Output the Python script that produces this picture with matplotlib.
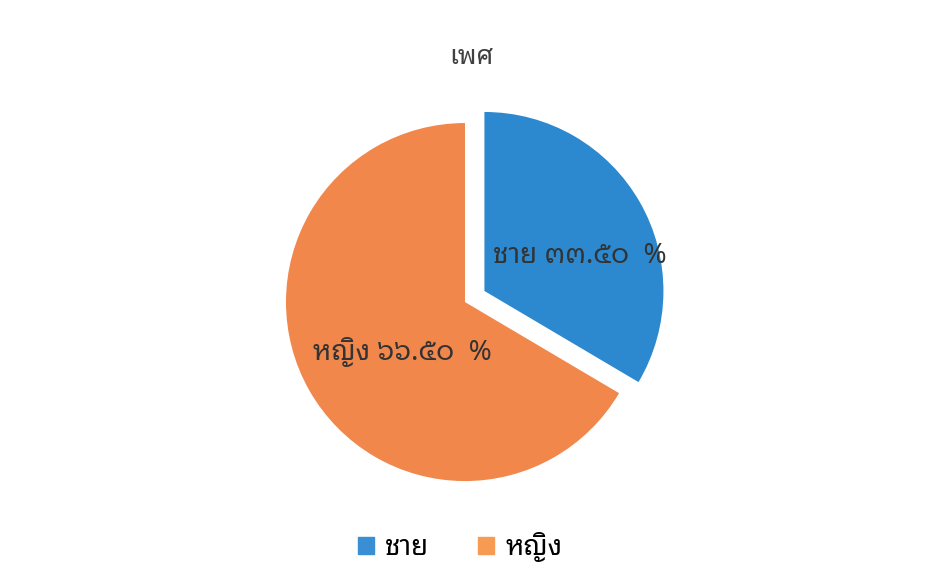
import matplotlib
matplotlib.use("Agg")
import matplotlib.pyplot as plt

plt.rcParams["font.family"] = ["Noto Sans Thai Looped", "DejaVu Sans"]

TITLE = "เพศ"
labels = ["ชาย", "หญิง"]
values = [33.50, 66.50]
value_text = ["๓๓.๕๐", "๖๖.๕๐"]
colors = ["#2d89cf", "#f1874b"]
legend_colors = ["#3a8fd4", "#f79a52"]

fig = plt.figure(figsize=(9.45, 5.82), dpi=100)
# pie centre sits a bit left of middle, radius ~179 px
ax = fig.add_axes([0.2742, 0.1273, 0.4357, 0.7074])

wedges, texts = ax.pie(
    values,
    colors=colors,
    startangle=90,
    counterclock=False,
    explode=[0.125, 0],
)
ax.set_aspect("equal")
ax.set_xlim(-1.15, 1.15)
ax.set_ylim(-1.15, 1.15)

label_pos = [(0.64, 0.26), (-0.35, -0.28)]
for lab, vt, (x, y) in zip(labels, value_text, label_pos):
    ax.text(x, y, f"{lab} {vt}  %", ha="center", va="center", fontsize=20, color="#333333")

fig.text(0.499, 0.902, TITLE, ha="center", va="center", fontsize=19, color="#404040")

handles = [plt.Rectangle((0, 0), 1, 1, color=c) for c in legend_colors]
fig.legend(handles, labels, loc="center", bbox_to_anchor=(0.487, 0.06), ncol=2,
           frameon=False, fontsize=20, handlelength=0.58, handleheight=0.58,
           columnspacing=1.75, handletextpad=0.4)

fig.savefig("out.png", dpi=100)
